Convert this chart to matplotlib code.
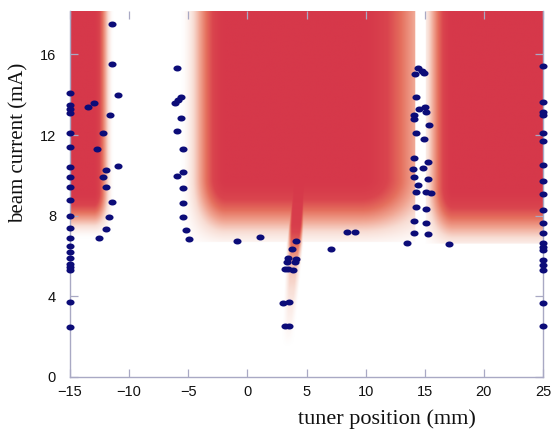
import numpy as np
import matplotlib
matplotlib.use("Agg")
import matplotlib.pyplot as plt
from matplotlib.colors import LinearSegmentedColormap
from matplotlib.path import Path

# measured points (tuner position mm, beam current mA)
edge_left_y = [14.1, 13.5, 13.3, 13.1, 12.1, 11.4, 10.4, 9.9, 9.4, 8.8, 8.0,
               7.4, 6.9, 6.5, 6.2, 5.9, 5.6, 5.45, 5.3, 3.7, 2.5]
edge_right_y = [15.43, 13.62, 13.15, 12.99, 12.11, 11.72, 10.51, 9.72, 9.07,
                8.28, 7.65, 7.12, 6.66, 6.46, 6.30, 5.80, 5.55, 5.30, 3.68, 2.53]

left_x = [-11.47, -11.47, -10.97, -12.95, -13.5, -11.62, -12.24, -12.74,
          -10.97, -11.96, -12.24, -11.96, -11.47, -11.7, -11.96, -12.52]
left_y = [17.53, 15.52, 14.0, 13.6, 13.39, 12.97, 12.08, 11.29,
          10.46, 10.26, 9.9, 9.4, 8.69, 7.92, 7.32, 6.88]

mid_left_x = [-5.93, -5.64, -5.85, -6.12, -5.62, -5.93, -5.47, -5.47,
              -5.93, -5.47, -5.47, -5.42, -5.19, -4.9]
mid_left_y = [15.3, 13.9, 13.73, 13.6, 12.86, 12.2, 11.29, 10.16,
              9.97, 9.39, 8.64, 7.92, 7.29, 6.83]

center_x = [-0.91, 1.06, 4.08, 3.74, 7.06, 8.39, 9.09, 3.45, 4.08, 3.37, 4.02,
            3.17, 3.82, 3.45, 3.03, 3.54, 3.17, 3.54]
center_y = [6.76, 6.92, 6.73, 6.36, 6.36, 7.17, 7.17, 5.88, 5.83, 5.72, 5.72,
            5.34, 5.30, 5.38, 3.65, 3.70, 2.54, 2.54]

gap_x = [14.44, 14.73, 14.16, 14.95, 14.3, 14.53, 15.01, 15.09, 14.08, 14.08,
         15.35, 14.3, 14.95, 14.08, 15.24, 14.87, 13.97, 14.1, 15.24, 14.44,
         14.22, 15.09, 15.57, 14.22, 15.09, 14.08, 15.09, 14.08, 15.24, 13.52,
         17.02]
gap_y = [15.30, 15.19, 15.02, 15.09, 13.9, 13.27, 13.37, 13.15, 12.99, 12.79,
         12.49, 12.08, 11.78, 10.87, 10.67, 10.35, 10.29, 9.9, 9.82, 9.52,
         9.16, 9.16, 9.10, 8.44, 8.33, 7.73, 7.62, 7.12, 7.09, 6.66,
         6.62]

# shaded regions: (x_zero_left, x_full_left, x_full_right, x_zero_right,
#                  y_full, y_zero, x_cut_left, x_cut_right, y_cut)
regions = [
    (-30.0, -29.0, -13.0, -11.3, 9.2, 6.8, -30.0, 30.0, 0.0),
    (-5.7, -1.8, 9.6, 17.5, 9.9, 6.1, -30.0, 14.2, 6.7),
    (14.5, 17.4, 40.0, 41.0, 9.4, 5.9, 15.1, 30.0, 6.6),
]
# narrow spike below the central region
spike_y = [1.5, 3.5, 5.5, 6.5, 7.5, 9.8]
spike_level = [0.0, 0.12, 0.3, 0.6, 0.9, 1.0]
spike_center = [3.4, 4.4]      # at bottom / top of spike
spike_halfw = [0.28, 0.65]

x_ticks = [-15, -10, -5, 0, 5, 10, 15, 20, 25]
y_ticks = [0, 4, 8, 12, 16]
x_lim = (-15, 25)
y_lim = (0, 18.15)


def ramp(v, a, b):
    r = np.clip((v - a) / (b - a), 0, 1)
    return r * r * (3 - 2 * r)


gx = np.linspace(x_lim[0], x_lim[1], 900)
gy = np.linspace(y_lim[0], y_lim[1], 450)
X, Y = np.meshgrid(gx, gy)
field = np.zeros_like(X)
for x0, x1, x2, x3, yf, yz, cl, cr, yc in regions:
    fx = ramp(X, x0, x1) * (1 - ramp(X, x2, x3))
    fy = ramp(Y, yz, yf)
    f = fx * fy
    f[(X < cl) | (X > cr) | (Y < yc)] = 0
    field = np.maximum(field, f)

t = np.clip((Y - spike_y[0]) / (spike_y[-1] - spike_y[0]), 0, 1)
c = spike_center[0] + t * (spike_center[1] - spike_center[0])
hw = spike_halfw[0] + t * (spike_halfw[1] - spike_halfw[0])
prof = np.clip((hw - np.abs(X - c)) / 0.4 + 0.5, 0, 1)
lev = np.interp(Y, spike_y, spike_level)
sp = prof * lev
sp[Y > 10.5] = 0
field = np.maximum(field, sp)

cmap = LinearSegmentedColormap.from_list(
    "beam", ["#ffffff", "#f8ddd4", "#f0a491", "#e5705e", "#da454e", "#d6384a"])

fig = plt.figure(figsize=(5.52, 4.29), dpi=100, facecolor="white")
ax = fig.add_axes([70 / 552, 1 - 377 / 429, 473 / 552, 366 / 429])

ax.imshow(field, extent=[x_lim[0], x_lim[1], y_lim[0], y_lim[1]], origin="lower",
          aspect="auto", cmap=cmap, vmin=0, vmax=1, interpolation="bilinear", zorder=0)

# slightly wide dots, as in the source figure
th = np.linspace(0, 2 * np.pi, 40)
dot = Path(np.column_stack([1.35 * np.cos(th), np.sin(th)]), closed=True)

all_x = ([-15] * len(edge_left_y) + left_x + mid_left_x + center_x + gap_x
         + [25] * len(edge_right_y))
all_y = edge_left_y + left_y + mid_left_y + center_y + gap_y + edge_right_y
ax.scatter(all_x, all_y, s=34, marker=dot, color="#0c0c78", linewidths=0,
           zorder=5, clip_on=False)

ax.set_xlim(*x_lim)
ax.set_ylim(*y_lim)
ax.set_xticks(x_ticks)
ax.set_yticks(y_ticks)

spine_col = "#a9a9c4"
for s in ax.spines.values():
    s.set_color(spine_col)
    s.set_linewidth(1.0)
ax.spines["top"].set_visible(False)
ax.tick_params(direction="in", length=6, width=0.9, color=spine_col,
               top=True, right=True, labelsize=10.5, labelcolor="#111111")
ax.tick_params(axis="x", pad=6)
ax.tick_params(axis="y", pad=10)
for lab in ax.get_xticklabels() + ax.get_yticklabels():
    lab.set_family("Liberation Sans")

ax.set_xlabel("tuner position (mm)", family="Liberation Serif", fontsize=16,
              color="#111111")
ax.set_ylabel("beam current (mA)", family="Liberation Serif", fontsize=15,
              color="#111111")
ax.xaxis.set_label_coords((387 - 70) / 473, -42 / 366)
ax.yaxis.set_label_coords(-51 / 473, (377 - 143) / 366)
ax.xaxis.label.set_va("center")
ax.yaxis.label.set_va("center")

fig.savefig("out.png", dpi=100, facecolor="white")
